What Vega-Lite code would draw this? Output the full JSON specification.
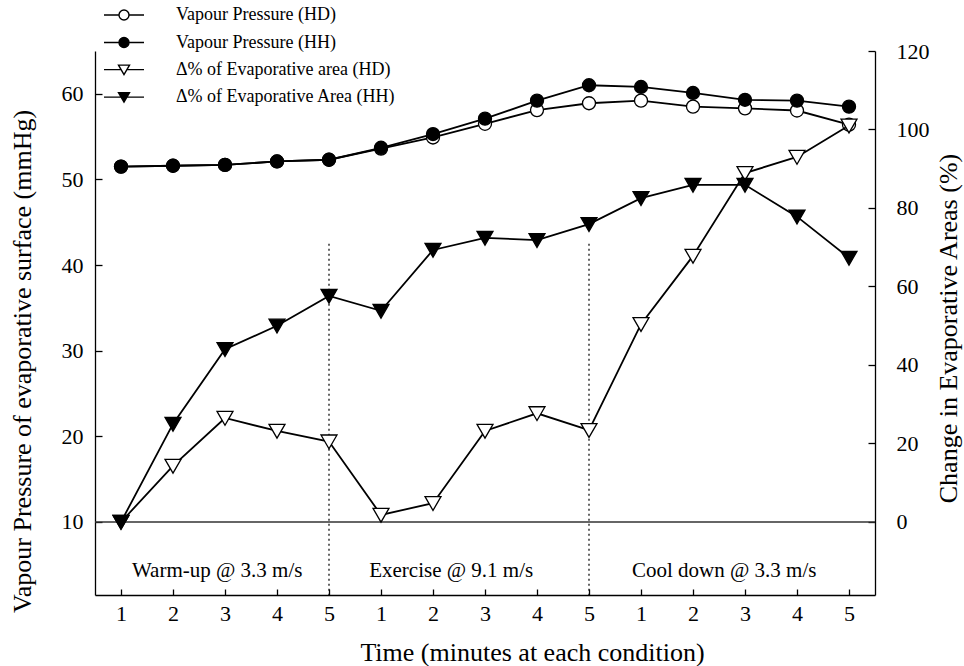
{
  "$schema": "https://vega.github.io/schema/vega-lite/v6.json",
  "width": 780,
  "height": 544,
  "autosize": {"type": "none"},
  "padding": {"left": 95, "top": 51, "right": 89, "bottom": 71},
  "background": "white",
  "config": {
    "font": "Liberation Serif",
    "view": {"stroke": null},
    "axis": {
      "grid": false,
      "domainColor": "black",
      "domainWidth": 1.3,
      "tickColor": "black",
      "tickWidth": 1.3,
      "labelColor": "black",
      "titleColor": "black",
      "labelFont": "Liberation Serif",
      "titleFont": "Liberation Serif",
      "titleFontWeight": "normal",
      "labelFontSize": 22,
      "titleFontSize": 26
    },
    "legend": {
      "labelFont": "Liberation Serif",
      "labelFontSize": 18,
      "labelColor": "black",
      "labelLimit": 500,
      "symbolStrokeColor": "black",
      "symbolStrokeWidth": 1.4
    }
  },
  "datasets": {
    "vapour": [
      {"t": 1, "series": "Vapour Pressure (HD)", "value": 51.5},
      {"t": 2, "series": "Vapour Pressure (HD)", "value": 51.6},
      {"t": 3, "series": "Vapour Pressure (HD)", "value": 51.7},
      {"t": 4, "series": "Vapour Pressure (HD)", "value": 52.1},
      {"t": 5, "series": "Vapour Pressure (HD)", "value": 52.3},
      {"t": 6, "series": "Vapour Pressure (HD)", "value": 53.6},
      {"t": 7, "series": "Vapour Pressure (HD)", "value": 54.9},
      {"t": 8, "series": "Vapour Pressure (HD)", "value": 56.5},
      {"t": 9, "series": "Vapour Pressure (HD)", "value": 58.1},
      {"t": 10, "series": "Vapour Pressure (HD)", "value": 58.9},
      {"t": 11, "series": "Vapour Pressure (HD)", "value": 59.2},
      {"t": 12, "series": "Vapour Pressure (HD)", "value": 58.5},
      {"t": 13, "series": "Vapour Pressure (HD)", "value": 58.3},
      {"t": 14, "series": "Vapour Pressure (HD)", "value": 58.05},
      {"t": 15, "series": "Vapour Pressure (HD)", "value": 56.4},
      {"t": 1, "series": "Vapour Pressure (HH)", "value": 51.5},
      {"t": 2, "series": "Vapour Pressure (HH)", "value": 51.6},
      {"t": 3, "series": "Vapour Pressure (HH)", "value": 51.7},
      {"t": 4, "series": "Vapour Pressure (HH)", "value": 52.1},
      {"t": 5, "series": "Vapour Pressure (HH)", "value": 52.3},
      {"t": 6, "series": "Vapour Pressure (HH)", "value": 53.7},
      {"t": 7, "series": "Vapour Pressure (HH)", "value": 55.3},
      {"t": 8, "series": "Vapour Pressure (HH)", "value": 57.1},
      {"t": 9, "series": "Vapour Pressure (HH)", "value": 59.2},
      {"t": 10, "series": "Vapour Pressure (HH)", "value": 61.0},
      {"t": 11, "series": "Vapour Pressure (HH)", "value": 60.8},
      {"t": 12, "series": "Vapour Pressure (HH)", "value": 60.1},
      {"t": 13, "series": "Vapour Pressure (HH)", "value": 59.3},
      {"t": 14, "series": "Vapour Pressure (HH)", "value": 59.2},
      {"t": 15, "series": "Vapour Pressure (HH)", "value": 58.5}
    ],
    "delta": [
      {"t": 1, "series": "Δ% of Evaporative area (HD)", "value": 0},
      {"t": 2, "series": "Δ% of Evaporative area (HD)", "value": 14.3},
      {"t": 3, "series": "Δ% of Evaporative area (HD)", "value": 26.5},
      {"t": 4, "series": "Δ% of Evaporative area (HD)", "value": 23.2},
      {"t": 5, "series": "Δ% of Evaporative area (HD)", "value": 20.5},
      {"t": 6, "series": "Δ% of Evaporative area (HD)", "value": 1.8},
      {"t": 7, "series": "Δ% of Evaporative area (HD)", "value": 4.8},
      {"t": 8, "series": "Δ% of Evaporative area (HD)", "value": 23.2},
      {"t": 9, "series": "Δ% of Evaporative area (HD)", "value": 27.7},
      {"t": 10, "series": "Δ% of Evaporative area (HD)", "value": 23.4},
      {"t": 11, "series": "Δ% of Evaporative area (HD)", "value": 50.4},
      {"t": 12, "series": "Δ% of Evaporative area (HD)", "value": 67.8},
      {"t": 13, "series": "Δ% of Evaporative area (HD)", "value": 88.9},
      {"t": 14, "series": "Δ% of Evaporative area (HD)", "value": 93.0},
      {"t": 15, "series": "Δ% of Evaporative area (HD)", "value": 101.0},
      {"t": 1, "series": "Δ% of Evaporative Area (HH)", "value": 0},
      {"t": 2, "series": "Δ% of Evaporative Area (HH)", "value": 25.0},
      {"t": 3, "series": "Δ% of Evaporative Area (HH)", "value": 44.0},
      {"t": 4, "series": "Δ% of Evaporative Area (HH)", "value": 50.0},
      {"t": 5, "series": "Δ% of Evaporative Area (HH)", "value": 57.6},
      {"t": 6, "series": "Δ% of Evaporative Area (HH)", "value": 53.8},
      {"t": 7, "series": "Δ% of Evaporative Area (HH)", "value": 69.3},
      {"t": 8, "series": "Δ% of Evaporative Area (HH)", "value": 72.4},
      {"t": 9, "series": "Δ% of Evaporative Area (HH)", "value": 71.8},
      {"t": 10, "series": "Δ% of Evaporative Area (HH)", "value": 75.9},
      {"t": 11, "series": "Δ% of Evaporative Area (HH)", "value": 82.5},
      {"t": 12, "series": "Δ% of Evaporative Area (HH)", "value": 85.9},
      {"t": 13, "series": "Δ% of Evaporative Area (HH)", "value": 85.9},
      {"t": 14, "series": "Δ% of Evaporative Area (HH)", "value": 77.8},
      {"t": 15, "series": "Δ% of Evaporative Area (HH)", "value": 67.3}
    ],
    "phases": [
      {"label": "Warm-up @ 3.3 m/s", "t": 2.85},
      {"label": "Exercise @ 9.1 m/s", "t": 7.35},
      {"label": "Cool down @ 3.3 m/s", "t": 12.6}
    ],
    "dividers": [{"t": 5}, {"t": 10}]
  },
  "layer": [
    {
      "layer": [
        {
          "data": {"values": [{"level": 10}]},
          "mark": {"type": "rule", "color": "#333333", "strokeWidth": 1.5},
          "encoding": {
            "y": {"field": "level", "type": "quantitative", "scale": {"domain": [1.47, 65], "nice": false, "zero": false}}
          }
        },
        {
          "data": {"name": "dividers"},
          "mark": {"type": "rule", "color": "black", "strokeWidth": 1.2, "strokeDash": [2, 3]},
          "encoding": {
            "x": {"field": "t", "type": "quantitative", "scale": {"domain": [0.5, 15.5], "nice": false, "zero": false}},
            "y": {"datum": 42.5, "type": "quantitative", "scale": {"domain": [1.47, 65], "nice": false, "zero": false}},
            "y2": {"datum": 1.47}
          }
        },
        {
          "data": {"name": "phases"},
          "mark": {"type": "text", "font": "Liberation Serif", "fontSize": 21, "color": "black", "align": "center", "baseline": "middle"},
          "encoding": {
            "x": {"field": "t", "type": "quantitative", "scale": {"domain": [0.5, 15.5], "nice": false, "zero": false}},
            "y": {"datum": 4.28, "type": "quantitative", "scale": {"domain": [1.47, 65], "nice": false, "zero": false}},
            "text": {"field": "label"}
          }
        },
        {
          "data": {"name": "vapour"},
          "mark": {"type": "line", "color": "black", "strokeWidth": 1.8},
          "encoding": {
            "x": {
              "field": "t", "type": "quantitative",
              "scale": {"domain": [0.5, 15.5], "nice": false, "zero": false},
              "axis": {
                "values": [1, 2, 3, 4, 5, 6, 7, 8, 9, 10, 11, 12, 13, 14, 15],
                "labelExpr": "((datum.value - 1) % 5) + 1",
                "tickSize": -6,
                "labelPadding": 14,
                "title": "Time (minutes at each condition)",
                "titleX": 437,
                "titleY": 57,
                "titleBaseline": "middle",
                "titleAlign": "center"
              }
            },
            "y": {
              "field": "value", "type": "quantitative",
              "scale": {"domain": [1.47, 65], "nice": false, "zero": false},
              "axis": {
                "orient": "left",
                "values": [10, 20, 30, 40, 50, 60],
                "tickSize": -7,
                "labelPadding": 19,
                "title": "Vapour Pressure of evaporative surface (mmHg)",
                "titleAngle": 270,
                "titleX": -73,
                "titleY": 310,
                "titleBaseline": "middle",
                "titleAlign": "center"
              }
            },
            "detail": {"field": "series"}
          }
        },
        {
          "data": {"name": "vapour"},
          "mark": {"type": "point", "shape": "circle", "filled": true, "stroke": "black", "strokeWidth": 1.3, "opacity": 1, "size": 169},
          "encoding": {
            "x": {"field": "t", "type": "quantitative", "scale": {"domain": [0.5, 15.5], "nice": false, "zero": false}},
            "y": {"field": "value", "type": "quantitative", "scale": {"domain": [1.47, 65], "nice": false, "zero": false}},
            "fill": {
              "field": "series", "type": "nominal",
              "scale": {
                "domain": ["Vapour Pressure (HD)", "Vapour Pressure (HH)"],
                "range": ["white", "black"]
              },
              "legend": {
                "title": null,
                "orient": "none",
                "legendX": 20,
                "legendY": -45,
                "padding": 0,
                "labelFont": "Liberation Serif",
                "labelFontSize": 18,
                "labelColor": "black",
                "labelLimit": 500,
                "labelOffset": 43,
                "rowPadding": 9.5,
                "symbolSize": 100,
                "symbolType": "M-4,0L-1,0M1,0L4,0M-1,0A1,1,0,1,1,1,0A1,1,0,1,1,-1,0Z",
                "symbolStrokeColor": "black",
                "symbolStrokeWidth": 1.4
              }
            }
          }
        }
      ]
    },
    {
      "layer": [
        {
          "data": {"name": "delta"},
          "mark": {"type": "line", "color": "black", "strokeWidth": 1.8},
          "encoding": {
            "x": {"field": "t", "type": "quantitative", "scale": {"domain": [0.5, 15.5], "nice": false, "zero": false}},
            "y": {
              "field": "value", "type": "quantitative",
              "scale": {"domain": [-18.6, 120], "nice": false, "zero": false},
              "axis": {
                "orient": "right",
                "values": [0, 20, 40, 60, 80, 100, 120],
                "tickSize": -7,
                "labelPadding": 28,
                "title": "Change in Evaporative Areas (%)",
                "titleAngle": 270,
                "titleX": 73,
                "titleY": 277,
                "titleBaseline": "middle",
                "titleAlign": "center"
              }
            },
            "detail": {"field": "series"}
          }
        },
        {
          "data": {"name": "delta"},
          "mark": {"type": "point", "shape": "M-1.1,-0.9L1.1,-0.9L0,1Z", "filled": true, "stroke": "black", "strokeWidth": 1.3, "opacity": 1, "size": 211},
          "encoding": {
            "x": {"field": "t", "type": "quantitative", "scale": {"domain": [0.5, 15.5], "nice": false, "zero": false}},
            "y": {"field": "value", "type": "quantitative", "scale": {"domain": [-18.6, 120], "nice": false, "zero": false}},
            "fill": {
              "field": "series", "type": "nominal",
              "scale": {
                "domain": ["Δ% of Evaporative area (HD)", "Δ% of Evaporative Area (HH)"],
                "range": ["white", "black"]
              },
              "legend": {
                "title": null,
                "orient": "none",
                "legendX": 20,
                "legendY": 9.6,
                "padding": 0,
                "labelFont": "Liberation Serif",
                "labelFontSize": 18,
                "labelColor": "black",
                "labelLimit": 500,
                "labelOffset": 43,
                "rowPadding": 9.5,
                "symbolSize": 100,
                "symbolType": "M-4,0L-0.58,0M0.58,0L4,0M-1.1,-0.9L1.1,-0.9L0,1Z",
                "symbolStrokeColor": "black",
                "symbolStrokeWidth": 1.4
              }
            }
          }
        }
      ]
    }
  ],
  "resolve": {"scale": {"y": "independent", "fill": "independent"}, "legend": {"fill": "independent"}}
}
